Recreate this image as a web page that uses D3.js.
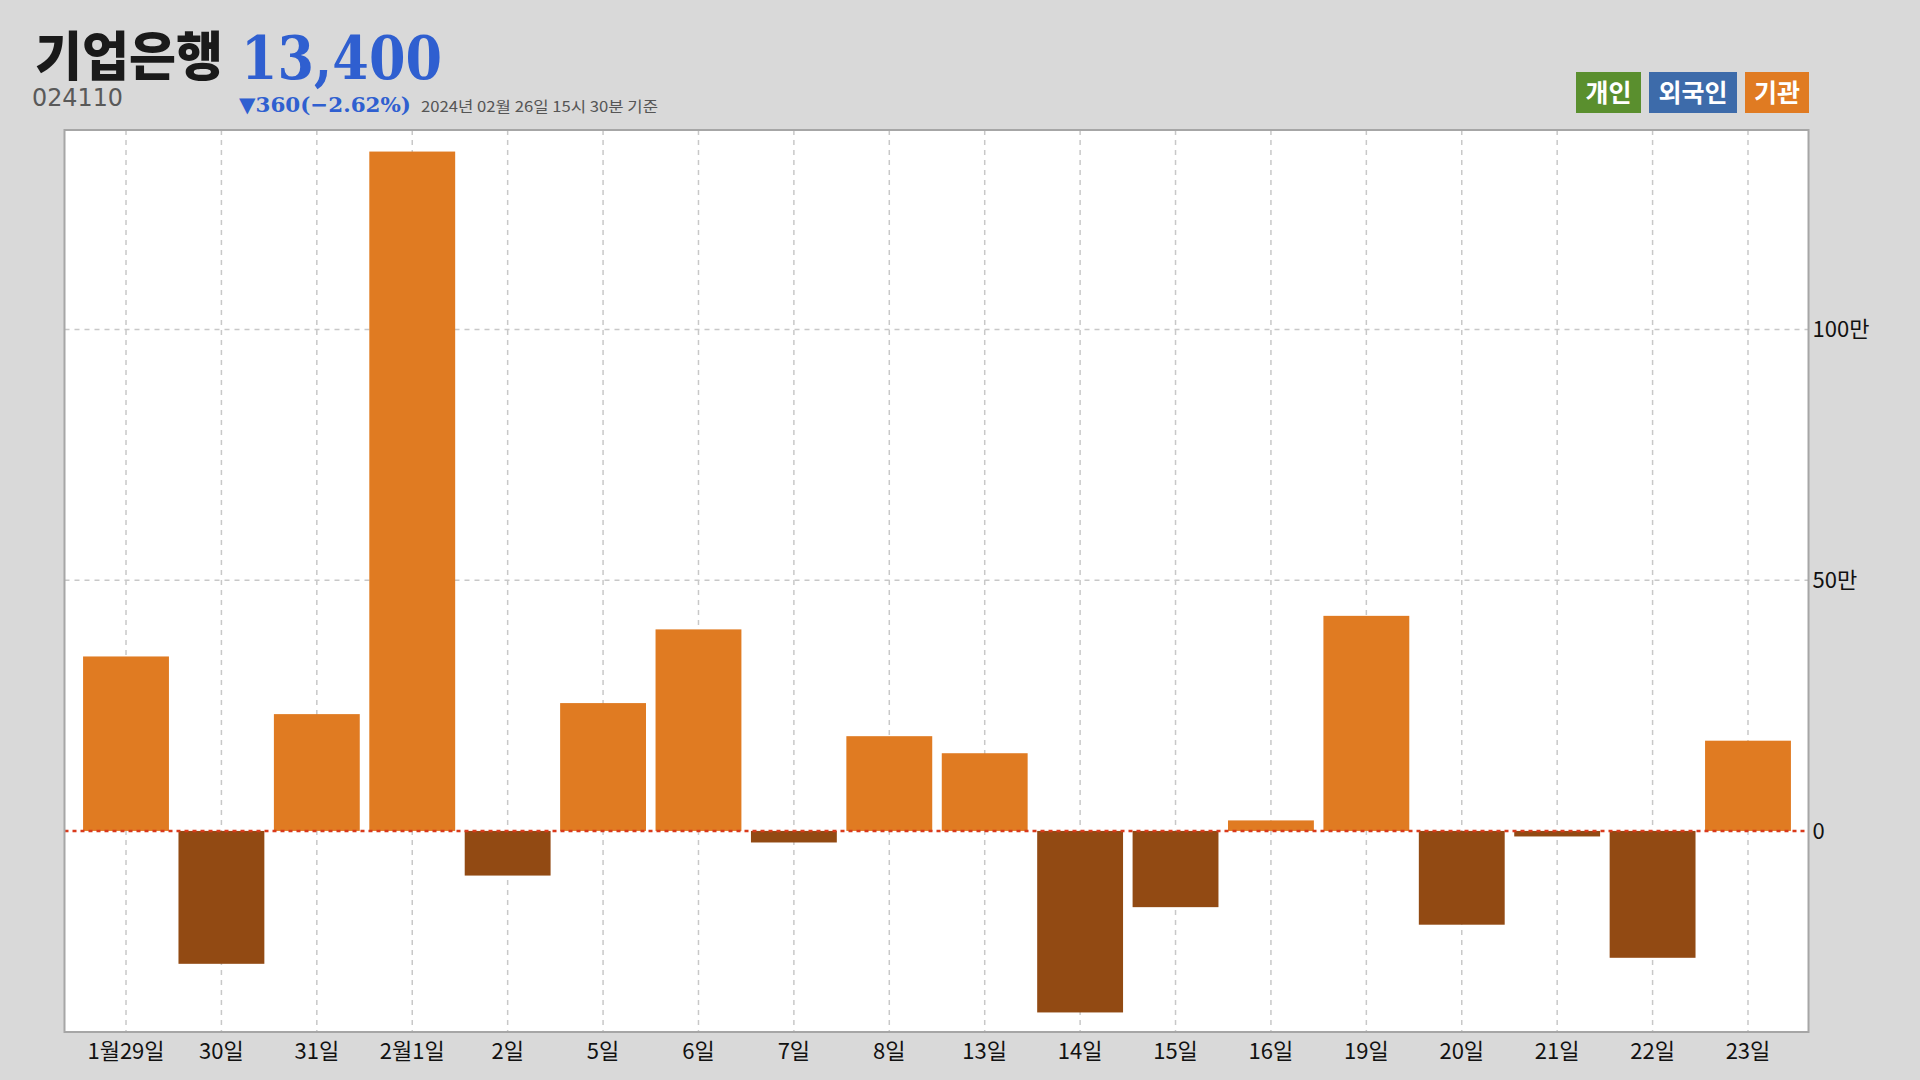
<!DOCTYPE html>
<html><head><meta charset="utf-8">
<script src="https://cdn.jsdelivr.net/npm/d3@7"></script>
<style>
html,body{margin:0;padding:0;background:#d9d9d9;}
svg{display:block;}
</style></head>
<body>
<svg id="chart" width="1920" height="1080"></svg>
<script>
// ---- data ----
const categories = ["1월29일","30일","31일","2월1일","2일","5일","6일","7일","8일","13일","14일","15일","16일","19일","20일","21일","22일","23일"];
const values = [348000,-265000,233000,1355000,-89000,255000,402000,-23000,189000,155000,-362000,-152000,21000,429000,-187000,-11000,-253000,180000];
const yTicks = [0, 500000, 1000000];
const yTickLabels = ["0","50만","100만"];
const legendLabels = ["개인","외국인","기관"];
const legendColors = ["#5a8f2e","#3d6baa","#e07b22"];
const yDomain = [-401000, 1398000];

const svg = d3.select("#chart");
const KR = "'Noto Sans CJK KR','Noto Sans',sans-serif";

const plot = {left: 64.5, right: 1808.5, top: 130, bottom: 1032};

svg.append("rect").attr("width",1920).attr("height",1080).attr("fill","#d9d9d9");

const x = d3.scaleBand().domain(categories).range([78.3, 1795.7]).paddingInner(0.1).paddingOuter(0.05);
const y = d3.scaleLinear().domain(yDomain).range([plot.bottom, plot.top]);

// plot background
svg.append("rect").attr("x",plot.left).attr("y",plot.top)
  .attr("width",plot.right-plot.left).attr("height",plot.bottom-plot.top)
  .attr("fill","#ffffff");

// vertical gridlines
svg.append("g").selectAll("line").data(categories).join("line")
  .attr("x1",d=>x(d)+x.bandwidth()/2).attr("x2",d=>x(d)+x.bandwidth()/2)
  .attr("y1",plot.top).attr("y2",plot.bottom)
  .attr("stroke","#c8c8c8").attr("stroke-width",1.5).attr("stroke-dasharray","5,5");

// horizontal gridlines
svg.append("g").selectAll("line").data(yTicks.filter(d=>d!==0)).join("line")
  .attr("x1",plot.left).attr("x2",plot.right)
  .attr("y1",d=>y(d)).attr("y2",d=>y(d))
  .attr("stroke","#c8c8c8").attr("stroke-width",1.5).attr("stroke-dasharray","5,5");

// bars
svg.append("g").selectAll("rect").data(values).join("rect")
  .attr("x",(d,i)=>x(categories[i]))
  .attr("width",x.bandwidth())
  .attr("y",d=>y(Math.max(0,d)))
  .attr("height",d=>Math.abs(y(d)-y(0)))
  .attr("fill",d=>d>=0?"#e07b22":"#924a13");

// zero line
svg.append("line").attr("x1",plot.left).attr("x2",plot.right)
  .attr("y1",y(0)).attr("y2",y(0))
  .attr("stroke","#d93a1c").attr("stroke-width",2.5).attr("stroke-dasharray","4,4");

// plot border
svg.append("rect").attr("x",plot.left).attr("y",plot.top)
  .attr("width",plot.right-plot.left).attr("height",plot.bottom-plot.top)
  .attr("fill","none").attr("stroke","#a6a6a6").attr("stroke-width",2);

// y axis labels (right)
svg.append("g").selectAll("text").data(yTicks).join("text")
  .attr("x",plot.right+4).attr("y",d=>y(d)).attr("dy","0.35em")
  .attr("font-family",KR).attr("font-size",22).attr("fill","#111")
  .text((d,i)=>yTickLabels[i]);

// x axis labels
svg.append("g").selectAll("text").data(categories).join("text")
  .attr("x",d=>x(d)+x.bandwidth()/2).attr("y",1059)
  .attr("text-anchor","middle")
  .attr("font-family",KR).attr("font-size",22).attr("fill","#111")
  .text(d=>d);

// header
svg.append("text").attr("x",35).attr("y",76)
  .attr("font-family",KR).attr("font-weight",900).attr("font-size",53)
  .attr("textLength",188).attr("lengthAdjust","spacingAndGlyphs")
  .attr("fill","#1a1a1a").text("기업은행");
svg.append("text").attr("x",241).attr("y",79)
  .attr("font-family","'DejaVu Serif',serif").attr("font-weight",700).attr("font-size",59)
  .attr("textLength",201).attr("lengthAdjust","spacingAndGlyphs")
  .attr("fill","#2f5fd0").text("13,400");
svg.append("text").attr("x",32).attr("y",106)
  .attr("font-family","'DejaVu Sans',sans-serif").attr("font-size",25)
  .attr("textLength",91).attr("lengthAdjust","spacingAndGlyphs")
  .attr("fill","#595959").text("024110");
svg.append("text").attr("x",239).attr("y",112)
  .attr("font-family","'DejaVu Serif',serif").attr("font-weight",700).attr("font-size",21)
  .attr("textLength",172).attr("lengthAdjust","spacingAndGlyphs")
  .attr("fill","#2f5fd0").text("▼360(−2.62%)");
svg.append("text").attr("x",421).attr("y",112)
  .attr("font-family",KR).attr("font-size",15)
  .attr("textLength",237).attr("lengthAdjust","spacingAndGlyphs")
  .attr("fill","#555").text("2024년 02월 26일 15시 30분 기준");

// legend
const legX = [1576, 1649, 1745];
const legW = [65, 88, 64];
const lg = svg.append("g").selectAll("g").data(legendLabels).join("g");
lg.append("rect").attr("x",(d,i)=>legX[i]).attr("y",72).attr("width",(d,i)=>legW[i]).attr("height",41)
  .attr("fill",(d,i)=>legendColors[i]);
lg.append("text").attr("x",(d,i)=>legX[i]+legW[i]/2).attr("y",92.5).attr("dy","0.36em")
  .attr("text-anchor","middle").attr("font-family",KR).attr("font-weight",700).attr("font-size",25)
  .attr("fill","#fff").text(d=>d);
</script>
</body></html>
